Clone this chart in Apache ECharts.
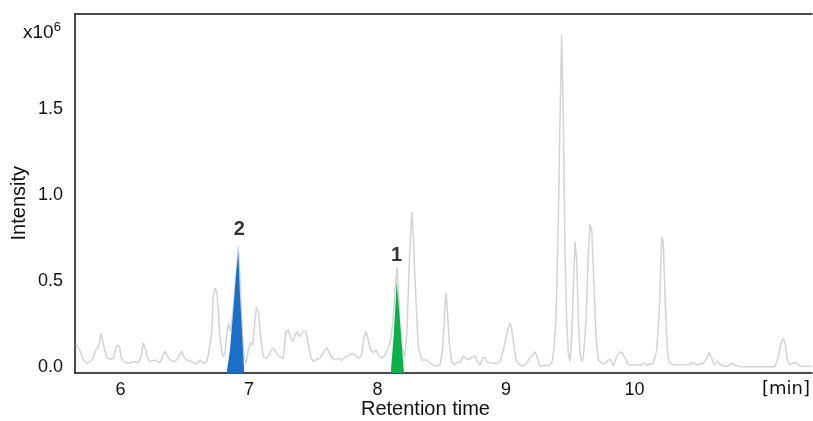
<!DOCTYPE html>
<html>
<head>
<meta charset="utf-8">
<title>Chromatogram</title>
<script src="https://cdn.jsdelivr.net/npm/echarts@6/dist/echarts.min.js"></script>
<style>
  html, body { margin: 0; padding: 0; background: #fff; }
  #main { width: 813px; height: 421px; }
</style>
</head>
<body>
<div id="main"></div>
<script>
// retention time [min] and intensity [x10^6] of the trace
var times = [5.654, 5.685, 5.711, 5.737, 5.763, 5.788, 5.807, 5.823, 5.833, 5.848, 5.858, 5.874, 5.893, 5.918, 5.944, 5.963, 5.978, 5.994,
  6.004, 6.022, 6.061, 6.100, 6.139, 6.160, 6.177, 6.196, 6.212, 6.230, 6.268, 6.307, 6.333, 6.346, 6.360, 6.385, 6.424, 6.450, 6.476, 6.489,
  6.515, 6.554, 6.593, 6.619, 6.644, 6.671, 6.683, 6.696, 6.710, 6.722, 6.735, 6.749, 6.761, 6.774, 6.788, 6.800, 6.813, 6.825, 6.840, 6.858,
  6.879, 6.899, 6.917, 6.934, 6.949, 6.965, 6.977, 6.995, 7.012, 7.029, 7.043, 7.058, 7.074, 7.091, 7.111, 7.138, 7.163, 7.184, 7.202, 7.220,
  7.241, 7.267, 7.288, 7.306, 7.325, 7.340, 7.358, 7.376, 7.391, 7.410, 7.428, 7.444, 7.461, 7.480, 7.500, 7.527, 7.553, 7.584, 7.605, 7.620,
  7.644, 7.669, 7.695, 7.721, 7.747, 7.773, 7.799, 7.825, 7.851, 7.877, 7.895, 7.911, 7.928, 7.947, 7.967, 7.988, 8.006, 8.033, 8.058, 8.084,
  8.101, 8.121, 8.136, 8.152, 8.167, 8.179, 8.196, 8.214, 8.230, 8.247, 8.266, 8.280, 8.292, 8.317, 8.344, 8.383, 8.409, 8.447, 8.486, 8.507,
  8.525, 8.533, 8.543, 8.559, 8.577, 8.603, 8.621, 8.642, 8.668, 8.689, 8.707, 8.733, 8.759, 8.777, 8.798, 8.819, 8.837, 8.850, 8.875, 8.928,
  8.953, 8.979, 9.000, 9.018, 9.031, 9.044, 9.062, 9.083, 9.109, 9.135, 9.161, 9.187, 9.212, 9.226, 9.244, 9.259, 9.278, 9.304, 9.329, 9.356,
  9.370, 9.389, 9.407, 9.420, 9.433, 9.446, 9.459, 9.472, 9.485, 9.498, 9.511, 9.524, 9.537, 9.550, 9.563, 9.576, 9.589, 9.602, 9.623, 9.640,
  9.654, 9.667, 9.685, 9.700, 9.718, 9.745, 9.770, 9.796, 9.813, 9.835, 9.861, 9.887, 9.908, 9.926, 9.952, 9.991, 10.043, 10.068, 10.095, 10.146,
  10.173, 10.193, 10.212, 10.224, 10.237, 10.255, 10.269, 10.290, 10.341, 10.432, 10.458, 10.484, 10.535, 10.562, 10.580, 10.601, 10.619, 10.644,
  10.671, 10.718, 10.756, 10.774, 10.821, 11.002, 11.093, 11.119, 11.138, 11.158, 11.171, 11.189, 11.210, 11.236, 11.257, 11.275, 11.301, 11.340, 11.379];
var intensities = [0.134, 0.095, 0.041, 0.022, 0.031, 0.051, 0.099, 0.109, 0.128, 0.196, 0.186, 0.109, 0.056, 0.045, 0.051, 0.109, 0.128, 0.115,
  0.056, 0.031, 0.022, 0.031, 0.025, 0.056, 0.141, 0.099, 0.051, 0.031, 0.041, 0.025, 0.070, 0.093, 0.070, 0.041, 0.031, 0.056, 0.093, 0.064,
  0.041, 0.031, 0.017, 0.041, 0.022, 0.031, 0.070, 0.128, 0.196, 0.409, 0.458, 0.438, 0.331, 0.176, 0.089, 0.060, 0.080, 0.176, 0.254, 0.205,
  0.360, 0.535, 0.698, 0.448, 0.186, 0.041, 0.023, 0.099, 0.140, 0.128, 0.244, 0.349, 0.314, 0.174, 0.060, 0.051, 0.080, 0.109, 0.099, 0.070,
  0.060, 0.051, 0.205, 0.215, 0.167, 0.147, 0.186, 0.205, 0.176, 0.196, 0.211, 0.205, 0.138, 0.060, 0.031, 0.045, 0.051, 0.089, 0.115, 0.089,
  0.056, 0.041, 0.051, 0.037, 0.060, 0.064, 0.080, 0.070, 0.051, 0.070, 0.176, 0.205, 0.157, 0.099, 0.083, 0.099, 0.070, 0.051, 0.070, 0.109,
  0.151, 0.273, 0.448, 0.576, 0.390, 0.140, 0.099, 0.060, 0.215, 0.605, 0.901, 0.738, 0.506, 0.118, 0.041, 0.041, 0.022, 0.006, 0.012, 0.099,
  0.351, 0.432, 0.331, 0.138, 0.031, 0.012, 0.031, 0.025, 0.064, 0.051, 0.041, 0.056, 0.064, 0.031, 0.012, 0.051, 0.056, 0.031, 0.025, 0.022,
  0.031, 0.099, 0.167, 0.225, 0.254, 0.225, 0.118, 0.031, 0.012, 0.006, 0.022, 0.056, 0.070, 0.089, 0.056, 0.012, 0.002, 0.012, 0.006, 0.022,
  0.087, 0.273, 0.855, 1.436, 1.930, 1.436, 0.663, 0.273, 0.080, 0.031, 0.176, 0.467, 0.728, 0.622, 0.273, 0.080, 0.031, 0.060, 0.273, 0.661,
  0.831, 0.797, 0.467, 0.176, 0.041, 0.022, 0.017, 0.041, 0.045, 0.006, 0.060, 0.087, 0.080, 0.051, 0.012, 0.012, 0.010, 0.022, 0.012, 0.022,
  0.099, 0.331, 0.758, 0.727, 0.409, 0.099, 0.029, 0.016, 0.012, 0.016, 0.025, 0.012, 0.022, 0.051, 0.083, 0.051, 0.012, 0.031,
  0.012, 0.002, 0.022, 0.012, 0.002, 0.002, 0.002, 0.060, 0.138, 0.167, 0.138, 0.041, 0.012, 0.025, 0.025, 0.012, 0.002, 0.006, 0.002];

// highlighted peaks (filled areas)
var peak2Times = [6.826, 6.852, 6.878, 6.899, 6.917, 6.930, 6.949, 6.963];
var peak2Values = [-0.035, 0.099, 0.331, 0.535, 0.669, 0.419, 0.157, -0.035];
var peak1Times = [8.103, 8.123, 8.136, 8.149, 8.170, 8.188, 8.206];
var peak1Values = [-0.035, 0.157, 0.314, 0.496, 0.314, 0.140, -0.035];

// peak numbers
var peakNames = ['2', '1'];
var peakLabelTimes = [6.925, 8.149];
var peakLabelValues = [0.797, 0.651];

var xTicks = [6, 7, 8, 9, 10];
var yTicks = [0, 0.5, 1.0, 1.5];

function pairs(xs, ys) {
  return xs.map(function (x, i) { return [x, ys[i]]; });
}

var chart = echarts.init(document.getElementById('main'), null, { renderer: 'canvas' });
var font = '"Liberation Sans", Arial, sans-serif';
var axisColor = '#111';

chart.setOption({
  animation: false,
  backgroundColor: '#fff',
  grid: { left: 75, right: 1, top: 14, bottom: 48 },
  xAxis: [{
    type: 'value',
    min: 5.646,
    max: 11.381,
    axisLine: { show: true, onZero: false, lineStyle: { color: axisColor, width: 1.5 } },
    axisTick: { show: false },
    splitLine: { show: false },
    axisLabel: {
      customValues: xTicks,
      margin: 8,
      fontFamily: font,
      fontSize: 18,
      color: '#111',
      formatter: function (v) { return String(v); }
    }
  }, {
    type: 'value',
    position: 'top',
    min: 5.646,
    max: 11.381,
    axisLine: { show: true, onZero: false, lineStyle: { color: axisColor, width: 1.5 } },
    axisTick: { show: false },
    axisLabel: { show: false },
    splitLine: { show: false }
  }],
  yAxis: {
    type: 'value',
    min: -0.035,
    max: 2.052,
    axisLine: { show: true, onZero: false, lineStyle: { color: axisColor, width: 1.5 } },
    axisTick: { show: false },
    splitLine: { show: false },
    axisLabel: {
      customValues: yTicks,
      margin: 12,
      fontFamily: font,
      fontSize: 18,
      color: '#111',
      formatter: function (v) { return v.toFixed(1); }
    }
  },
  graphic: [
    {
      type: 'text', left: 9, top: 166,
      rotation: Math.PI / 2,
      style: { text: 'Intensity', font: '20px ' + font, fill: '#111' }
    },
    {
      type: 'text', left: 361, top: 399,
      style: { text: 'Retention time', font: '20px ' + font, fill: '#111' }
    },
    {
      type: 'text', left: 762, top: 380,
      style: { text: '[min]', font: '18px "DejaVu Sans", sans-serif', fill: '#111' }
    },
    {
      type: 'text', left: 23, top: 21,
      style: {
        text: '{a|x10}{b|6}',
        rich: {
          a: { font: '19px ' + font, fill: '#111', verticalAlign: 'bottom' },
          b: { font: '13px ' + font, fill: '#111', padding: [0, 0, 8, 0] }
        }
      }
    }
  ],
  series: [
    {
      type: 'line',
      data: pairs(times, intensities),
      showSymbol: false,
      symbol: 'none',
      lineStyle: { color: '#d3d3d3', width: 1.5 },
      z: 2
    },
    {
      type: 'line',
      data: pairs(peak2Times, peak2Values),
      symbol: 'none',
      lineStyle: { width: 0 },
      areaStyle: { color: '#1a6fc8', origin: 'start', opacity: 1 },
      z: 3
    },
    {
      type: 'line',
      data: pairs(peak1Times, peak1Values),
      symbol: 'none',
      lineStyle: { width: 0 },
      areaStyle: { color: '#0bb04b', origin: 'start', opacity: 1 },
      z: 3
    },
    {
      type: 'scatter',
      data: pairs(peakLabelTimes, peakLabelValues).map(function (p, i) {
        return { value: p, name: peakNames[i] };
      }),
      symbolSize: 0,
      label: {
        show: true,
        position: 'inside',
        formatter: '{b}',
        fontFamily: font,
        fontWeight: 'bold',
        fontSize: 20,
        color: '#000',
        textBorderWidth: 0
      },
      z: 4
    }
  ]
});
</script>
</body>
</html>
